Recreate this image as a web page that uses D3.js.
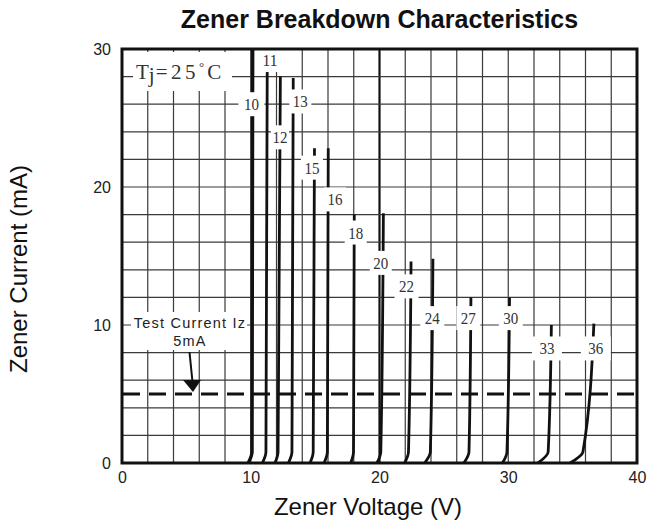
<!DOCTYPE html>
<html>
<head>
<meta charset="utf-8">
<script src="https://cdn.jsdelivr.net/npm/d3@7"></script>
<style>
  html, body { margin: 0; padding: 0; background: #fff; }
  svg { display: block; font-family: "Liberation Sans", Arial, sans-serif; }
</style>
</head>
<body>
<div id="chart"></div>
<script>
// zener diode curves, one entry per device (voltage class)
const devices = ['10', '11', '12', '13', '15', '16', '18', '20', '22', '24', '27', '30', '33', '36'];
const kneeStartV = [9.8, 10.9, 11.88, 12.92, 14.6, 15.69, 17.76, 19.8, 21.95, 23.5, 26.55, 29.55, 32.3, 34.8];
const breakdownV = [10.1, 11.18, 12.12, 13.2, 14.85, 15.95, 17.98, 20.1, 22.25, 23.95, 26.95, 29.9, 33.1, 35.8];
const topV = [10.15, 11.28, 12.3, 13.3, 14.95, 16.02, 18.04, 20.3, 22.45, 24.15, 27.1, 30.1, 33.35, 36.65];
const topI = [30, 28.6, 28.0, 27.9, 22.8, 22.8, 18.0, 18.1, 14.6, 14.8, 12.0, 12.0, 10.0, 10.1];

// where each number label sits (V, mA) and how wide its white box is
const labelV = [10.05, 11.5, 12.27, 13.85, 14.75, 16.54, 18.15, 20.1, 22.1, 24.1, 26.9, 30.2, 33.0, 36.8];
const labelI = [26.0, 29.2, 23.6, 26.2, 21.4, 19.1, 16.7, 14.5, 12.8, 10.5, 10.5, 10.5, 8.3, 8.3];
const labelBoxW = [26, 20, 18, 22, 22, 22, 22, 22, 24, 24, 24, 24, 30, 30];

const xTicks = [0, 10, 20, 30, 40];
const yTicks = [0, 10, 20, 30];
const testCurrent = 5;

const width = 662, height = 520;
const x = d3.scaleLinear().domain([0, 40]).range([122, 637]);
const y = d3.scaleLinear().domain([0, 30]).range([463, 49]);

const svg = d3.select('#chart').append('svg')
  .attr('width', width).attr('height', height);

svg.append('rect').attr('width', width).attr('height', height).attr('fill', '#fff');

// grid every 2 V / 2 mA
const grid = svg.append('g').attr('stroke', '#3a3a3a').attr('stroke-width', 1.2);
grid.selectAll('line.v').data(d3.range(2, 40, 2)).join('line')
  .attr('x1', (d) => x(d)).attr('x2', (d) => x(d))
  .attr('y1', y(30)).attr('y2', y(0))
  .attr('stroke', (d) => (d === 20 ? '#111' : null))
  .attr('stroke-width', (d) => (d === 20 ? 2.2 : null));
grid.selectAll('line.h').data(d3.range(2, 30, 2)).join('line')
  .attr('x1', x(0)).attr('x2', x(40))
  .attr('y1', (d) => y(d)).attr('y2', (d) => y(d));

// test current line
svg.append('line')
  .attr('x1', x(0) + 1).attr('x2', x(40))
  .attr('y1', y(testCurrent)).attr('y2', y(testCurrent))
  .attr('stroke', '#111').attr('stroke-width', 3)
  .attr('stroke-dasharray', '17,9');

// curves
const line = d3.line().x((d) => x(d[0])).y((d) => y(d[1])).curve(d3.curveMonotoneY);
svg.append('g').selectAll('path').data(devices).join('path')
  .attr('d', (d, i) => line([[kneeStartV[i], 0], [breakdownV[i], 0.8], [topV[i], topI[i]]]))
  .attr('fill', 'none')
  .attr('stroke', '#111')
  .attr('stroke-width', (d, i) => (i === 0 ? 3.4 : 2.8))
  .attr('stroke-linecap', 'butt');

// number labels on white boxes
const labels = svg.append('g');
devices.forEach((d, i) => {
  const cx = x(labelV[i]);
  const cy = y(labelI[i]);
  labels.append('rect')
    .attr('x', cx - labelBoxW[i] / 2).attr('y', cy - 12)
    .attr('width', labelBoxW[i]).attr('height', 24)
    .attr('fill', '#fff');
  labels.append('text')
    .attr('x', cx).attr('y', cy + 6)
    .attr('text-anchor', 'middle')
    .attr('font-family', '"Liberation Serif", "DejaVu Serif", serif')
    .attr('font-size', 17)
    .attr('textLength', 15)
    .attr('lengthAdjust', 'spacingAndGlyphs')
    .attr('fill', '#333')
    .text(d);
});

// Tj box
svg.append('rect').attr('x', 133).attr('y', 52).attr('width', 99).attr('height', 39).attr('fill', '#fff');
const tj = svg.append('text')
  .attr('x', 136).attr('y', 79)
  .attr('font-family', '"Liberation Serif", "DejaVu Serif", serif')
  .attr('font-size', 21)
  .attr('fill', '#333');
tj.append('tspan').text('T');
tj.append('tspan').attr('dy', 3).text('j');
tj.append('tspan').attr('dy', -3).attr('dx', 1).attr('letter-spacing', 3.5).text('=25');
tj.append('tspan').attr('font-size', 13).attr('dy', -8).text('°');
tj.append('tspan').attr('dy', 8).attr('dx', 3).text('C');

// test current annotation
svg.append('rect').attr('x', 131).attr('y', 312).attr('width', 116).attr('height', 38).attr('fill', '#fff');
svg.append('text').attr('x', 190).attr('y', 328)
  .attr('text-anchor', 'middle').attr('font-size', 14.5).attr('letter-spacing', 1.2).attr('fill', '#222')
  .text('Test Current Iz');
svg.append('text').attr('x', 190).attr('y', 346)
  .attr('text-anchor', 'middle').attr('font-size', 14.5).attr('letter-spacing', 1.2).attr('fill', '#222')
  .text('5mA');
svg.append('line')
  .attr('x1', 189.5).attr('y1', 352).attr('x2', 192.5).attr('y2', 382)
  .attr('stroke', '#111').attr('stroke-width', 2);
svg.append('path')
  .attr('d', `M183,380 L201,380 L193,${y(testCurrent) - 2} Z`)
  .attr('fill', '#111');

// frame
svg.append('rect')
  .attr('x', x(0)).attr('y', y(30))
  .attr('width', x(40) - x(0)).attr('height', y(0) - y(30))
  .attr('fill', 'none').attr('stroke', '#111').attr('stroke-width', 3);

// axes (labels only)
const yAxis = svg.append('g')
  .attr('transform', `translate(${x(0)},0)`)
  .call(d3.axisLeft(y).tickValues(yTicks).tickSize(0).tickPadding(11));
yAxis.select('.domain').remove();
yAxis.selectAll('text').attr('font-size', 16).attr('fill', '#222').attr('font-family', '"Liberation Sans", Arial, sans-serif');

const xAxis = svg.append('g')
  .attr('transform', `translate(0,${y(0)})`)
  .call(d3.axisBottom(x).tickValues(xTicks).tickSize(0).tickPadding(9));
xAxis.select('.domain').remove();
xAxis.selectAll('text').attr('font-size', 16).attr('fill', '#222').attr('font-family', '"Liberation Sans", Arial, sans-serif');

// titles
svg.append('text')
  .attr('x', (x(0) + x(40)) / 2).attr('y', 28)
  .attr('text-anchor', 'middle').attr('font-size', 25).attr('font-weight', 'bold').attr('fill', '#111')
  .text('Zener Breakdown Characteristics');
svg.append('text')
  .attr('x', 368).attr('y', 515)
  .attr('text-anchor', 'middle').attr('font-size', 24).attr('fill', '#111')
  .text('Zener Voltage (V)');
svg.append('text')
  .attr('transform', `translate(27,269) rotate(-90)`)
  .attr('text-anchor', 'middle').attr('font-size', 24).attr('fill', '#111')
  .text('Zener Current (mA)');
</script>
</body>
</html>
